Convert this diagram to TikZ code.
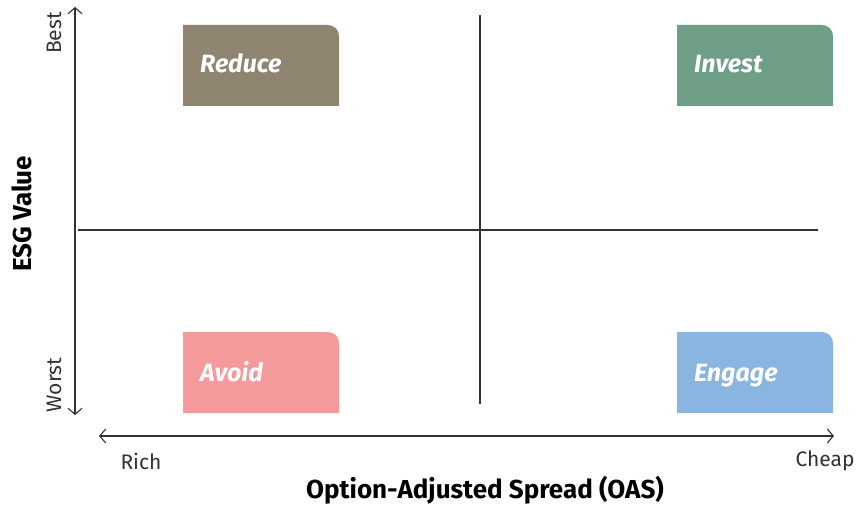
\documentclass[tikz,border=0pt]{standalone}
\usepackage{fontspec}
\setmainfont{Fira Sans}
\usetikzlibrary{arrows.meta}
\definecolor{axisgray}{HTML}{333333}
\definecolor{reducec}{HTML}{8F8470}
\definecolor{investc}{HTML}{6E9E86}
\definecolor{avoidc}{HTML}{F59A9A}
\definecolor{engagec}{HTML}{89B5E0}
\tikzset{
  axis/.style={draw=axisgray, line width=1.1pt, {Straight Barb[length=6pt,width=14pt]}-{Straight Barb[length=6pt,width=14pt]}},
  grid line/.style={draw=axisgray, line width=1.1pt},
  qlabel/.style={text=white, font=\fontsize{25}{28}\selectfont\bfseries\itshape, anchor=base west, inner sep=0pt},
  ticklabel/.style={text=axisgray, font=\fontsize{21}{24}\selectfont},
  axistitle/.style={text=black, font=\fontsize{26}{30}\selectfont\bfseries}
}
\begin{document}
\begin{tikzpicture}[x=1pt,y=-1pt]
\useasboundingbox[fill=white] (0,0) rectangle (859,508);
% quadrant boxes (rounded top-right corner)
\fill[reducec] (183,106) -- (183,25) -- (328,25) to[out=0,in=90] (339,36) -- (339,106) -- cycle;
\fill[investc] (677,106) -- (677,25) -- (822,25) to[out=0,in=90] (833,36) -- (833,106) -- cycle;
\fill[avoidc] (183,413) -- (183,332) -- (328,332) to[out=0,in=90] (339,343) -- (339,413) -- cycle;
\fill[engagec] (677,413) -- (677,332) -- (822,332) to[out=0,in=90] (833,343) -- (833,413) -- cycle;
\node[qlabel] (reduce) at (200,73) {Reduce};
\node[qlabel] (invest) at (694,73) {Invest};
\node[qlabel] (avoid) at (200,381) {Avoid};
\node[qlabel] (engage) at (694,381) {Engage};
% crosshair
\coordinate (hl) at (78,230);
\coordinate (hr) at (818,230);
\coordinate (vt) at (480,15);
\coordinate (vb) at (480,404);
\draw[grid line] (hl) -- (hr);
\draw[grid line] (vt) -- (vb);
% axes
\coordinate (yt) at (75,7);
\coordinate (yb) at (75,415);
\coordinate (xl) at (99,436);
\coordinate (xr) at (834,436);
\draw[axis] (yb) -- (yt);
\draw[axis] (xl) -- (xr);
\node[ticklabel, rotate=90] (best) at (54,33) {Best};
\node[ticklabel, rotate=90] (worst) at (54,385) {Worst};
\node[ticklabel] (rich) at (141,461) {Rich};
\node[ticklabel] (cheap) at (825,461) {Cheap};
\node[axistitle, rotate=90] (esg) at (22,214) {ESG Value};
\node[axistitle] (oas) at (485,490) {Option-Adjusted Spread (OAS)};
\end{tikzpicture}
\end{document}
